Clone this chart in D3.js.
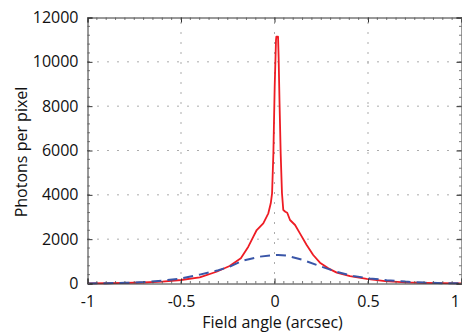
<!DOCTYPE html>
<html>
<head>
<meta charset="utf-8">
<script src="https://cdn.jsdelivr.net/npm/d3@7"></script>
<style>
  html, body { margin: 0; padding: 0; background: #fff; }
  svg { display: block; }
  text { font-family: "Open Sans", "Noto Sans", sans-serif; fill: #111; }
</style>
</head>
<body>
<svg id="chart" width="462" height="333"></svg>
<script>
// ---- Data ----
const redX = [-1, -0.9, -0.8, -0.7, -0.6, -0.5, -0.4, -0.31, -0.24, -0.18, -0.14, -0.113, -0.095, -0.06, -0.033, -0.02, -0.013, -0.006, 0.001, 0.008, 0.010, 0.019, 0.022, 0.027, 0.033, 0.040, 0.047, 0.058, 0.068, 0.083, 0.110, 0.136, 0.172, 0.207, 0.243, 0.288, 0.333, 0.404, 0.493, 0.591, 0.7, 0.8, 0.9, 1.0];
const redY = [5, 12, 25, 45, 85, 158, 280, 530, 790, 1136, 1661, 2112, 2413, 2716, 3167, 3618, 4069, 5874, 8878, 10985, 11134, 11134, 10232, 8130, 5874, 4069, 3315, 3240, 3194, 2865, 2639, 2263, 1737, 1286, 940, 684, 489, 331, 210, 105, 55, 28, 14, 6];

const blueX = [-1, -0.9, -0.8, -0.7, -0.6, -0.5, -0.4, -0.3, -0.24, -0.17, -0.08, 0, 0.02, 0.065, 0.15, 0.24, 0.33, 0.42, 0.51, 0.6, 0.7, 0.8, 0.9, 1.0];
const blueY = [3, 10, 30, 65, 130, 225, 400, 600, 760, 1030, 1210, 1285, 1290, 1260, 1070, 790, 535, 340, 230, 150, 85, 40, 15, 5];

const xTicks = [-1, -0.5, 0, 0.5, 1];
const xTickLabels = ["-1", "-0.5", "0", "0.5", "1"];
const yTicks = [0, 2000, 4000, 6000, 8000, 10000, 12000];
const xTitle = "Field angle (arcsec)";
const yTitle = "Photons per pixel";

// ---- Layout ----
const svg = d3.select("#chart");
const L = 87.5, R = 461.5, T = 17.5, B = 283.5;

const x = d3.scaleLinear().domain([-1, 1]).range([L, R]);
const y = d3.scaleLinear().domain([0, 12000]).range([B, T]);

// grid (dotted)
const grid = svg.append("g").attr("stroke", "#222").attr("stroke-width", 1)
  .attr("stroke-dasharray", "1,9").attr("opacity", 0.75);
yTicks.filter(v => v > 0 && v < 12000).forEach(v => {
  grid.append("line").attr("x1", L).attr("x2", R).attr("y1", y(v)).attr("y2", y(v));
});
xTicks.filter(v => v > -1 && v < 1).forEach(v => {
  grid.append("line").attr("x1", x(v)).attr("x2", x(v)).attr("y1", B).attr("y2", T);
});

// data lines
const redData = redX.map((d, i) => [d, redY[i]]);
const blueData = blueX.map((d, i) => [d, blueY[i]]);
const line = d3.line().x(d => x(d[0])).y(d => y(d[1]));

svg.append("path").datum(redData).attr("d", line)
  .attr("fill", "none").attr("stroke", "#ee1c24").attr("stroke-width", 1.8)
  .attr("stroke-linejoin", "round");
svg.append("path").datum(blueData).attr("d", line)
  .attr("fill", "none").attr("stroke", "#3a56a8").attr("stroke-width", 2)
  .attr("stroke-dasharray", "10,6");

// axes (ticks inward, box)
const xAxisB = d3.axisBottom(x).tickValues(xTicks).tickSize(-5).tickFormat((d, i) => xTickLabels[i]).tickPadding(12);
const xAxisT = d3.axisTop(x).tickValues(xTicks).tickSize(-5).tickFormat("");
const yAxisL = d3.axisLeft(y).tickValues(yTicks).tickSize(-5).tickFormat(d3.format("d")).tickPadding(9);
const yAxisR = d3.axisRight(y).tickValues(yTicks).tickSize(-5).tickFormat("");

function style(g) {
  g.select(".domain").attr("stroke", "#333").attr("stroke-width", 1);
  g.selectAll(".tick line").attr("stroke", "#333");
  g.selectAll("text").style("font-family", '"Open Sans", sans-serif').style("font-size", "16px").attr("fill", "#111");
}
const gxb = svg.append("g").attr("transform", `translate(0,${B})`).call(xAxisB).call(style);
// last label sits at the right edge of the window: keep it fully inside
gxb.selectAll(".tick text").filter(d => d === 1).attr("text-anchor", "end").attr("dx", -2);
svg.append("g").attr("transform", `translate(0,${T})`).call(xAxisT).call(style);
svg.append("g").attr("transform", `translate(${L},0)`).call(yAxisL).call(style);
svg.append("g").attr("transform", `translate(${R},0)`).call(yAxisR).call(style);

// minor ticks
const minorX = d3.range(-1, 1.0001, 0.05);
const minorY = d3.range(0, 12001, 400);
const mg = svg.append("g").attr("stroke", "#555").attr("stroke-width", 0.8);
minorX.forEach(v => {
  mg.append("line").attr("x1", x(v)).attr("x2", x(v)).attr("y1", B).attr("y2", B - 2.5);
  mg.append("line").attr("x1", x(v)).attr("x2", x(v)).attr("y1", T).attr("y2", T + 2.5);
});
minorY.forEach(v => {
  mg.append("line").attr("x1", L).attr("x2", L + 2.5).attr("y1", y(v)).attr("y2", y(v));
  mg.append("line").attr("x1", R).attr("x2", R - 2.5).attr("y1", y(v)).attr("y2", y(v));
});

// titles
svg.append("text").attr("x", (L + R) / 2 - 2).attr("y", 328).attr("text-anchor", "middle")
  .style("font-size", "16px").text(xTitle);
svg.append("text").attr("transform", `translate(27,152) rotate(-90)`).attr("text-anchor", "middle")
  .style("font-size", "16px").text(yTitle);
</script>
</body>
</html>
